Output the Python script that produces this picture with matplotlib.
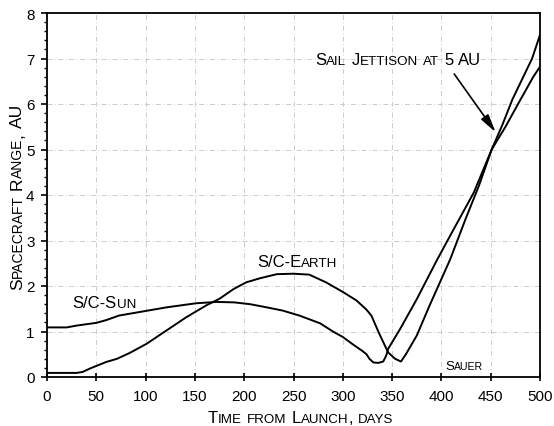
import matplotlib
matplotlib.use("Agg")
import matplotlib.pyplot as plt
from matplotlib.ticker import MultipleLocator

plt.rcParams['font.family'] = ['Liberation Sans', 'DejaVu Sans']

# spacecraft - sun distance (days, AU)
sun_days = [0, 20, 30, 50, 60, 73, 97, 121, 151, 172, 190, 206, 223, 239, 256,
            277, 290, 300, 310, 320, 324, 327, 331, 336, 341, 344, 346, 358,
            375, 395, 410, 433, 451, 465, 479, 493, 500]
sun_au = [1.09, 1.09, 1.13, 1.19, 1.25, 1.35, 1.44, 1.53, 1.62, 1.65, 1.64, 1.60,
          1.53, 1.46, 1.35, 1.18, 1.00, 0.88, 0.72, 0.57, 0.50, 0.40, 0.32, 0.31,
          0.34, 0.47, 0.62, 1.05, 1.71, 2.55, 3.15, 4.06, 5.00, 5.50, 6.05, 6.59,
          6.82]

# spacecraft - earth distance (days, AU)
earth_days = [0, 30, 36, 44, 60, 71, 84, 101, 121, 141, 162, 175, 189, 202, 216,
              233, 250, 266, 283, 300, 314, 324, 329, 337, 346, 353, 359, 364,
              375, 388, 409, 425, 438, 451, 462, 472, 482, 492, 500]
earth_au = [0.09, 0.09, 0.11, 0.19, 0.33, 0.40, 0.53, 0.73, 1.02, 1.31, 1.58,
            1.72, 1.93, 2.08, 2.17, 2.26, 2.27, 2.25, 2.08, 1.87, 1.68, 1.48,
            1.35, 0.95, 0.54, 0.40, 0.34, 0.50, 0.91, 1.57, 2.59, 3.50, 4.20,
            5.00, 5.55, 6.10, 6.55, 7.00, 7.52]

x_ticks = list(range(0, 501, 50))
y_ticks = list(range(0, 9))


def small_caps(ax, x, y, text, size, coords, vertical=False, ratio=0.8):
    """Draw text in small caps: lowercase letters become smaller capitals."""
    runs, cur, cur_small, gap = [], '', False, False
    for ch in text:
        if ch == ' ':
            if cur:
                runs.append((cur, cur_small, gap))
                cur, gap = '', False
            gap = True
            continue
        small = ch.islower()
        if cur and small != cur_small:
            runs.append((cur, cur_small, gap))
            cur, gap = '', False
        if not cur:
            cur_small = small
        cur += ch
    if cur:
        runs.append((cur, cur_small, gap))

    prev = None
    rot = 90 if vertical else 0
    for s, small, gap in runs:
        kw = dict(fontsize=size * ratio if small else size, ha='left',
                  va='baseline', rotation=rot, rotation_mode='anchor',
                  annotation_clip=False)
        if prev is None:
            prev = ax.annotate(s.upper(), (x, y), xycoords=coords, **kw)
            continue
        g = 0.3 * size if gap else 0
        if vertical:
            prev = ax.annotate(s.upper(), (x, 1), xycoords=(coords, prev),
                               xytext=(0, g), textcoords='offset points', **kw)
        else:
            prev = ax.annotate(s.upper(), (1, y), xycoords=(prev, coords),
                               xytext=(g, 0), textcoords='offset points', **kw)


fig = plt.figure(figsize=(5.54, 4.27), dpi=100)
ax = fig.add_axes([47 / 554, 1 - 378 / 427, 493 / 554, 364 / 427])

ax.plot(sun_days, sun_au, color='black', lw=1.4)
ax.plot(earth_days, earth_au, color='black', lw=1.4)

ax.set_xlim(0, 500)
ax.set_ylim(0, 8)
ax.set_xticks(x_ticks)
ax.set_yticks(y_ticks)
ax.yaxis.set_minor_locator(MultipleLocator(0.2))
ax.tick_params(axis='x', which='major', direction='inout', length=6, width=1.2,
               pad=6, labelsize=11)
ax.tick_params(axis='y', which='major', direction='out', length=4, width=1.2,
               pad=5, labelsize=11)
ax.tick_params(axis='y', which='minor', direction='out', length=2.5, width=1)
ax.grid(True, which='major', color='#c4c4c4', lw=0.6, linestyle=(0, (6, 3, 1, 3)))
for sp in ax.spines.values():
    sp.set_linewidth(1.3)

small_caps(ax, 26, 1.54, 'S/C-Sun', 12, 'data')
small_caps(ax, 213, 2.45, 'S/C-Earth', 12, 'data')
small_caps(ax, 272, 6.88, 'Sail Jettison at 5 AU', 12, 'data')
small_caps(ax, 404, 0.18, 'Sauer', 9.5, 'data')

ax.annotate('', xy=(455, 5.38), xytext=(413, 6.66),
            arrowprops=dict(arrowstyle='-|>,head_length=0.9,head_width=0.22',
                            color='black', lw=1.2, mutation_scale=12,
                            shrinkA=0, shrinkB=0))

small_caps(ax, 208, 4, 'Time from Launch, days', 12, 'figure pixels')
small_caps(ax, 22, 137, 'Spacecraft Range, AU', 12.5, 'figure pixels',
           vertical=True)

fig.savefig('out.png', dpi=100)
